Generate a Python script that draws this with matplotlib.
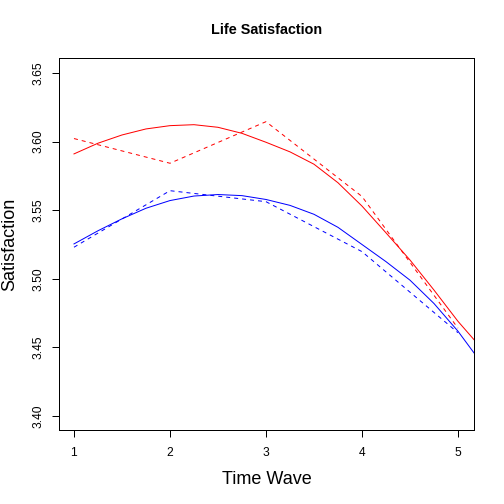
import matplotlib
matplotlib.use("Agg")
import matplotlib.pyplot as plt

plt.rcParams['font.family'] = ['Liberation Sans', 'DejaVu Sans']

# Observed means (dashed) at each wave
waves = [1, 2, 3, 4, 5]
red_obs = [3.6022, 3.5842, 3.6145, 3.5600, 3.4640]
blue_obs = [3.5230, 3.5642, 3.5562, 3.5198, 3.4607]

# Fitted curves (solid)
curve_x = [1, 1.25, 1.5, 1.75, 2, 2.25, 2.5, 2.75, 3, 3.25, 3.5, 3.75, 4,
           4.25, 4.5, 4.75, 5, 5.17]
red_fit = [3.5910, 3.5988, 3.6048, 3.6092, 3.6116, 3.6123, 3.6104, 3.6060,
           3.5995, 3.5925, 3.5835, 3.5700, 3.5530, 3.5335, 3.5137, 3.4918,
           3.4690, 3.4554]
blue_fit = [3.5254, 3.5350, 3.5437, 3.5514, 3.5570, 3.5603, 3.5614, 3.5606,
            3.5578, 3.5535, 3.5470, 3.5375, 3.5250, 3.5125, 3.4990, 3.4820,
            3.4618, 3.4457]

xticks = [1, 2, 3, 4, 5]
yticks = [3.40, 3.45, 3.50, 3.55, 3.60, 3.65]
ytick_labels = ["3.40", "3.45", "3.50", "3.55", "3.60", "3.65"]

fig = plt.figure(figsize=(7, 7), dpi=72)
ax = fig.add_axes([59/504, 1-430/504, (474-59)/504, (430-58)/504])

ax.plot(curve_x, red_fit, color='red', lw=1.0)
ax.plot(curve_x, blue_fit, color='blue', lw=1.0)
ax.plot(waves, red_obs, color='red', lw=1.0, dashes=(4, 4))
ax.plot(waves, blue_obs, color='blue', lw=1.0, dashes=(4, 4))

ax.set_xlim(0.844, 5.167)
ax.set_ylim(3.3898, 3.6609)
ax.set_xticks(xticks)
ax.set_xticklabels([str(t) for t in xticks])
ax.set_yticks(yticks)
ax.set_yticklabels(ytick_labels, rotation=90, va='center')
ax.tick_params(axis='both', length=7, width=1, labelsize=12, colors='black')
ax.tick_params(axis='x', pad=10)
ax.tick_params(axis='y', pad=8)
for s in ax.spines.values():
    s.set_linewidth(1)
    s.set_color('black')

fig.text(0.5*(59+474)/504, 1-30/504, "Life Satisfaction", ha='center',
         va='center', fontsize=14.4, fontweight='bold')
fig.text(0.5*(59+474)/504, 1-480/504, "Time Wave", ha='center',
         va='center', fontsize=18)
fig.text(10/504, 1-(58+430)/2/504, "Satisfaction", ha='center',
         va='center', fontsize=18, rotation=90)

fig.savefig("out.png", dpi=72, facecolor='white')
